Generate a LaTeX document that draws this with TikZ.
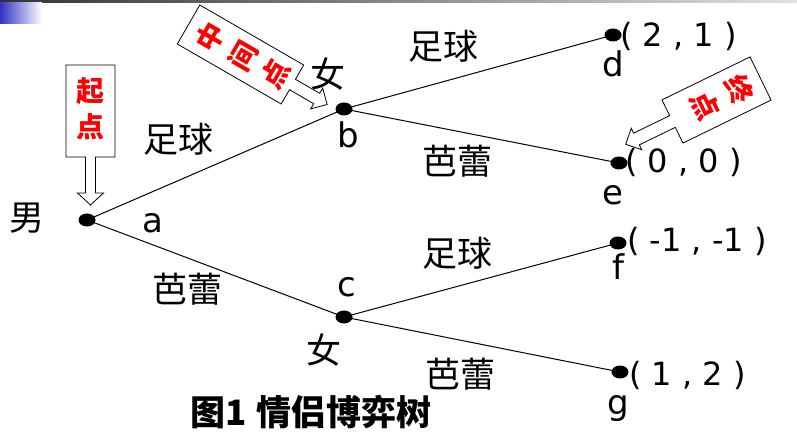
\documentclass[tikz,border=0pt]{standalone}
\usepackage{fontspec}
\setmainfont{Noto Sans CJK SC}
\newfontfamily\lat{DejaVu Sans}
\usetikzlibrary{shapes.geometric}
\newcommand{\coutline}[6]{%
  \draw[calloutline] (-#1,-#2) -- (#1,-#2) -- (#1,#2) -- (#3,#2) -- (#3,#2+#4) -- (#5,#2+#4)
    -- (0,#2+#4+#6) -- (-#5,#2+#4) -- (-#3,#2+#4) -- (-#3,#2) -- (-#1,#2) -- cycle;}
\begin{document}
\begin{tikzpicture}[x=1pt,y=-1pt,
  dot/.style={ellipse,fill=black,draw=none,minimum width=17pt,minimum height=13pt,inner sep=0pt},
  edge/.style={line width=1pt},
  cjk/.style={font=\fontsize{35}{40}\selectfont,inner sep=0pt},
  latl/.style={font=\lat\fontsize{34}{40}\selectfont,inner sep=0pt,anchor=base},
  pay/.style={font=\lat\fontsize{32}{36}\selectfont,inner sep=0pt,anchor=west},
  calloutline/.style={draw=black,line width=0.8pt,fill=white},
  callouttext/.style={font=\bfseries\fontsize{28}{30}\selectfont,text=red,inner sep=0pt,transform shape}]
\useasboundingbox (0,0) rectangle (797,443);
% header decorations
\shade[left color={rgb,255:red,50;green,50;blue,50}, right color={rgb,255:red,225;green,225;blue,225}] (0,0) rectangle (797,3);
\shade[left color={rgb,255:red,50;green,50;blue,200}, right color=white] (0,3) rectangle (42,24);
% decision nodes
\node[dot] (a) at (87,220) {};
\node[dot] (b) at (344,109) {};
\node[dot] (c) at (344,317) {};
\node[dot] (d) at (613,35) {};
\node[dot] (e) at (619,163) {};
\node[dot] (f) at (618,243) {};
\node[dot] (g) at (620,372) {};
% edges
\draw[edge] (a.center) -- (b.center);
\draw[edge] (a.center) -- (c.center);
\draw[edge] (b.center) -- (d.center);
\draw[edge] (b.center) -- (e.center);
\draw[edge] (c.center) -- (f.center);
\draw[edge] (c.center) -- (g.center);
% players
\node[cjk] (nan) at (27,218) {男};
\node[cjk] (nv1) at (328,74) {女};
\node[cjk] (nv2) at (324,350) {女};
% action labels
\node[cjk] (l1) at (178,139) {足球};
\node[cjk] (l2) at (187,289) {芭蕾};
\node[cjk] (l3) at (443,46) {足球};
\node[cjk] (l4) at (457,161) {芭蕾};
\node[cjk] (l5) at (457,253) {足球};
\node[cjk] (l6) at (460,374) {芭蕾};
% node letters
\node[latl] (ta) at (153,233) {a};
\node[latl] (tb) at (348,148) {b};
\node[latl] (tc) at (347,297) {c};
\node[latl] (td) at (613,77) {d};
\node[latl] (te) at (613,205) {e};
\node[latl] (tf) at (618,280) {f};
\node[latl] (tg) at (618,414) {g};
% payoffs
\node[pay] (pd) at (620,36) {( 2 , 1 )};
\node[pay] (pe) at (625,162) {( 0 , 0 )};
\node[pay] (pf) at (627,241) {( -1 , -1 )};
\node[pay] (pg) at (629,375) {( 1 , 2 )};
% caption
\node[font=\bfseries\fontsize{35}{38}\selectfont,inner sep=0pt] (cap) at (311,412) {图1\hspace{0.3em}情侣博弈树};
% callout: start
\begin{scope}[shift={(90.5,111)}]
  \coutline{24.5}{46}{5}{36}{13}{12}
  \node[callouttext] (q1) at (0,-20) {起};
  \node[callouttext] (q2) at (0,16) {点};
\end{scope}
% callout: middle
\begin{scope}[shift={(240.5,54.5)},rotate=60]
  \coutline{22.5}{60}{6}{28}{12}{12}
  \node[callouttext] (m1) at (0,-35) {中};
  \node[callouttext] (m2) at (0,3) {间};
  \node[callouttext] (m3) at (0,40) {点};
\end{scope}
% callout: end
\begin{scope}[shift={(716.5,100)},rotate=-64]
  \coutline{24}{49}{6.5}{40}{12}{12}
  \node[callouttext] (z1) at (0,-25) {终};
  \node[callouttext] (z2) at (0,13) {点};
\end{scope}
\end{tikzpicture}
\end{document}
